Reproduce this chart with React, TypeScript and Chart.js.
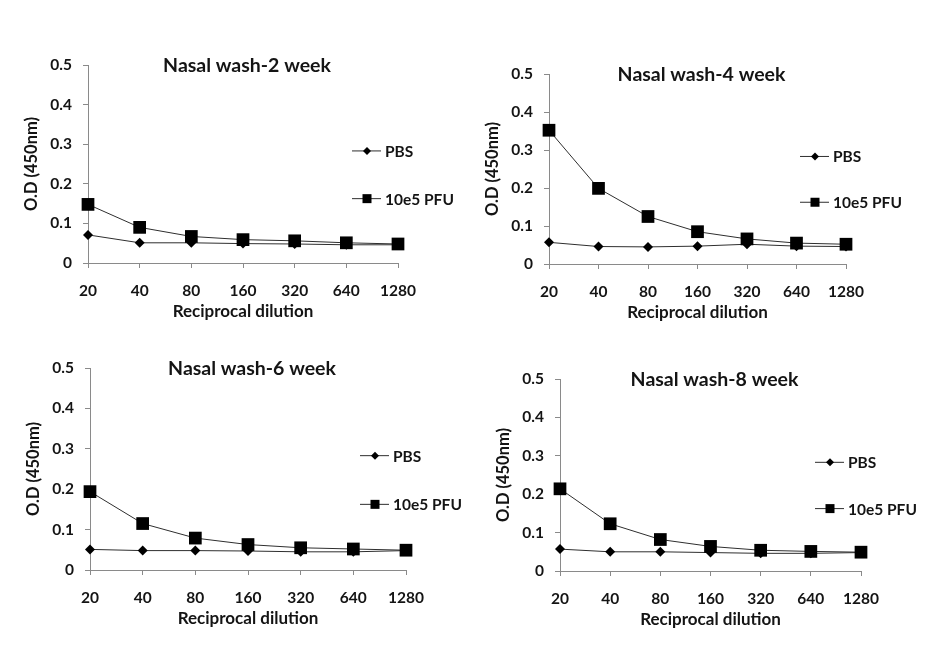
import React, { useEffect, useRef } from "react";
import { Chart, registerables } from "chart.js";

Chart.register(...registerables);

// ---------- data ----------
const dilutions = ["20", "40", "80", "160", "320", "640", "1280"];
const yTickLabels = ["0", "0.1", "0.2", "0.3", "0.4", "0.5"];
const seriesNames = ["PBS", "10e5 PFU"];
const panelTitles = [
  "Nasal wash-2 week",
  "Nasal wash-4 week",
  "Nasal wash-6 week",
  "Nasal wash-8 week",
];
const yAxisTitle = "O.D (450nm)";
const xAxisTitle = "Reciprocal dilution";

const pbsWeek2 = [0.071, 0.051, 0.051, 0.049, 0.048, 0.046, 0.046];
const pfuWeek2 = [0.148, 0.09, 0.067, 0.059, 0.056, 0.051, 0.048];
const pbsWeek4 = [0.057, 0.046, 0.045, 0.047, 0.052, 0.047, 0.046];
const pfuWeek4 = [0.352, 0.199, 0.125, 0.085, 0.066, 0.055, 0.052];
const pbsWeek6 = [0.051, 0.048, 0.048, 0.047, 0.045, 0.045, 0.048];
const pfuWeek6 = [0.194, 0.115, 0.079, 0.063, 0.055, 0.052, 0.049];
const pbsWeek8 = [0.057, 0.05, 0.05, 0.048, 0.046, 0.046, 0.048];
const pfuWeek8 = [0.214, 0.123, 0.082, 0.064, 0.054, 0.051, 0.049];

const pbsSeries = [pbsWeek2, pbsWeek4, pbsWeek6, pbsWeek8];
const pfuSeries = [pfuWeek2, pfuWeek4, pfuWeek6, pfuWeek8];

// ---------- layout (positions only) ----------
const W = 946;
const H = 664;
const QW = 473;
const QH = 332;
const Y_AXIS_W = 66;
const X_AXIS_H = 60;
// plot-area rectangles in page coordinates: left, top, right, bottom
const areas = [
  [88, 65, 398, 263],
  [549, 74, 846, 264],
  [90, 368, 406, 570],
  [560, 379, 861, 571],
];
const origins = [
  [0, 0],
  [QW, 0],
  [0, QH],
  [QW, QH],
];
const legendFrac = [0.566, 0.325];

const FONT = 'Lato, "Liberation Sans", Arial, sans-serif';
const TEXT = "#141414";
const AXIS = "#8a8a8a";
const LINE = "#2e2e2e";

const decorPlugin = {
  id: "panelDecor",
  afterDraw(chart: any) {
    const opts = chart.options.plugins.panelDecor;
    if (!opts) return;
    const { ctx, chartArea } = chart;
    const { left, right, top, bottom } = chartArea;
    ctx.save();
    ctx.fillStyle = TEXT;
    ctx.font = `bold 19.5px ${FONT}`;
    ctx.textAlign = "center";
    ctx.textBaseline = "middle";
    ctx.fillText(opts.title, (left + right) / 2 + 4, top + 1);

    const ds = chart.data.datasets;
    ds.forEach((d: any, i: number) => {
      const y = bottom - legendFrac[i] * (bottom - top);
      const x0 = right - 46;
      ctx.strokeStyle = LINE;
      ctx.lineWidth = 1;
      ctx.beginPath();
      ctx.moveTo(x0, y);
      ctx.lineTo(x0 + 29, y);
      ctx.stroke();
      ctx.fillStyle = "#000";
      const cx = x0 + 15;
      ctx.beginPath();
      if (d.pointStyle === "rect") {
        ctx.rect(cx - 4.5, y - 4.5, 9, 9);
      } else {
        ctx.moveTo(cx - 4, y);
        ctx.lineTo(cx, y - 4);
        ctx.lineTo(cx + 4, y);
        ctx.lineTo(cx, y + 4);
        ctx.closePath();
      }
      ctx.fill();
      ctx.fillStyle = TEXT;
      ctx.font = `bold 15.5px ${FONT}`;
      ctx.textAlign = "left";
      ctx.textBaseline = "middle";
      ctx.fillText(d.label, x0 + 33, y + 1);
    });
    ctx.restore();
  },
};

function Panel({ index }: { index: number }) {
  const ref = useRef<HTMLCanvasElement | null>(null);
  useEffect(() => {
    const canvas = ref.current;
    if (!canvas) return;
    const [ox, oy] = origins[index];
    const [al, at, ar, ab] = areas[index];
    const padding = {
      left: al - ox - Y_AXIS_W,
      top: at - oy,
      right: ox + QW - ar,
      bottom: oy + QH - ab - X_AXIS_H,
    };
    const chart = new Chart(canvas, {
      type: "line",
      data: {
        labels: dilutions,
        datasets: [
          {
            label: seriesNames[0],
            data: pbsSeries[index],
            borderColor: LINE,
            borderWidth: 1,
            pointStyle: "rectRot",
            pointRadius: 5,
            pointBackgroundColor: "#000",
            pointBorderColor: "#000",
            pointBorderWidth: 0,
            tension: 0,
            order: 2,
          },
          {
            label: seriesNames[1],
            data: pfuSeries[index],
            borderColor: LINE,
            borderWidth: 1,
            pointStyle: "rect",
            pointRadius: 9,
            pointBackgroundColor: "#000",
            pointBorderColor: "#000",
            pointBorderWidth: 0,
            tension: 0,
            order: 1,
          },
        ],
      },
      options: {
        responsive: false,
        animation: false,
        devicePixelRatio: 1,
        layout: { padding },
        plugins: {
          legend: { display: false },
          title: { display: false },
          tooltip: { enabled: false },
          panelDecor: { title: panelTitles[index] },
        } as any,
        scales: {
          x: {
            type: "category",
            offset: false,
            grid: {
              drawOnChartArea: false,
              drawTicks: true,
              tickLength: 5,
              color: AXIS,
            },
            border: { color: AXIS, width: 1 },
            ticks: {
              color: TEXT,
              font: { family: FONT, size: 15.5, weight: "bold" },
              padding: 14,
              maxRotation: 0,
              autoSkip: false,
            },
            title: {
              display: true,
              text: xAxisTitle,
              color: TEXT,
              font: { family: FONT, size: 17, weight: "bold" },
              padding: { top: 0, bottom: 1 },
            },
            afterFit: (s: any) => {
              s.height = X_AXIS_H;
            },
          },
          y: {
            min: 0,
            max: 0.5,
            grid: {
              drawOnChartArea: false,
              drawTicks: true,
              tickLength: 5,
              color: AXIS,
            },
            border: { color: AXIS, width: 1 },
            ticks: {
              stepSize: 0.1,
              color: TEXT,
              font: { family: FONT, size: 15.5, weight: "bold" },
              padding: 11,
              callback: (_v: any, i: number) => yTickLabels[i],
            },
            title: {
              display: true,
              text: yAxisTitle,
              color: TEXT,
              font: { family: FONT, size: 16.5, weight: "bold" },
              padding: { top: 0, bottom: 0 },
            },
            afterFit: (s: any) => {
              s.width = Y_AXIS_W;
            },
          },
        },
      },
      plugins: [decorPlugin],
    } as any);
    return () => chart.destroy();
  }, [index]);
  const [ox, oy] = origins[index];
  return (
    <div style={{ position: "absolute", left: ox, top: oy, width: QW, height: QH }}>
      <canvas ref={ref} width={QW} height={QH} style={{ display: "block" }} />
    </div>
  );
}

export default function App() {
  return (
    <div
      style={{
        position: "fixed",
        left: 0,
        top: 0,
        width: W,
        height: H,
        background: "#fff",
        overflow: "hidden",
      }}
    >
      {[0, 1, 2, 3].map((i) => (
        <Panel key={i} index={i} />
      ))}
    </div>
  );
}
